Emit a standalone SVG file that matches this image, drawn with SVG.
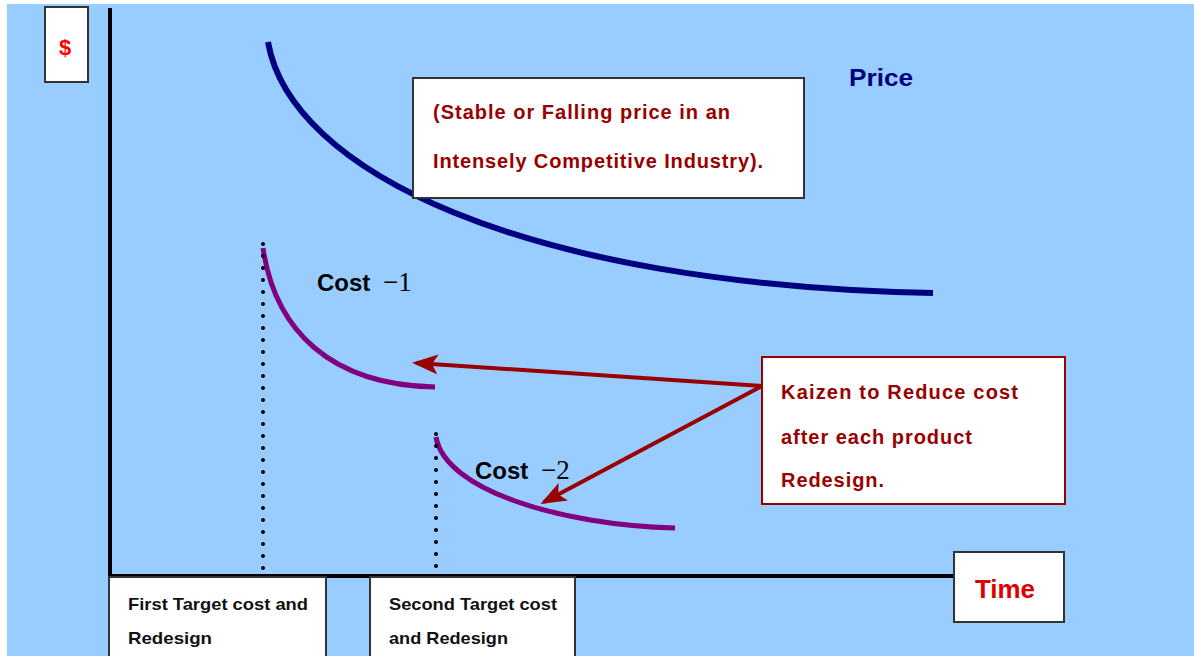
<svg xmlns="http://www.w3.org/2000/svg" width="1194" height="656" viewBox="0 0 1194 656">
<defs>
<marker id="ah" markerUnits="userSpaceOnUse" markerWidth="28" markerHeight="20" refX="22" refY="10" orient="auto">
<path d="M0,0 L26,10 L0,20 L6,10 Z" fill="#990000"/>
</marker>
</defs>
<style>
.box{fill:#fff;stroke:#333;stroke-width:2}
.rbox{fill:#fff;stroke:#990000;stroke-width:2}
.t{font-family:"Liberation Sans",Arial,sans-serif;font-weight:bold}
.red{fill:#990000;font-size:20px}
.lbl{fill:#111;font-size:17px}
.dot{stroke:#000;stroke-width:4;stroke-linecap:round;stroke-dasharray:0 12;fill:none}
.arr{stroke:#990000;stroke-width:4;fill:none}
</style>
<rect x="0" y="0" width="1194" height="656" fill="#fff"/>
<rect x="7" y="4" width="1187" height="652" fill="#99CCFF"/>
<g id="axes">
<line x1="110" y1="8" x2="110" y2="577" stroke="#000" stroke-width="4"/>
<line x1="108" y1="576" x2="955" y2="576" stroke="#000" stroke-width="4"/>
</g>
<g id="dollar-box">
<rect class="box" x="45" y="7" width="43" height="75"/>
<text class="t" x="65" y="55" font-size="22" fill="#ff0000" text-anchor="middle">$</text>
</g>
<g id="price-curve">
<path d="M268,42 C290,170 520,285 933,293" stroke="#000080" stroke-width="6" fill="none"/>
<text class="t" x="849" y="86" font-size="24" fill="#000080" textLength="64" lengthAdjust="spacingAndGlyphs">Price</text>
</g>
<g id="price-note">
<rect class="box" x="413" y="78" width="391" height="120"/>
<text class="t red" x="433" y="119" textLength="297" lengthAdjust="spacing">(Stable or Falling price in an</text>
<text class="t red" x="433" y="168" textLength="330" lengthAdjust="spacing">Intensely Competitive Industry).</text>
</g>
<g id="cost1">
<path d="M263,248 C275,330 330,385 435,387" stroke="#800080" stroke-width="5" fill="none"/>
<text class="t" x="317" y="291" font-size="24" fill="#000">Cost <tspan dx="6" font-family="'Liberation Serif',serif" font-weight="normal" font-size="27">−1</tspan></text>
</g>
<g id="cost2">
<path d="M436,437 C445,490 560,525 675,528" stroke="#800080" stroke-width="5" fill="none"/>
<text class="t" x="475" y="479" font-size="24" fill="#000">Cost <tspan dx="6" font-family="'Liberation Serif',serif" font-weight="normal" font-size="27">−2</tspan></text>
</g>
<g id="dotted-lines">
<line class="dot" x1="263" y1="244" x2="263" y2="570"/>
<line class="dot" x1="436" y1="434" x2="436" y2="570"/>
</g>
<g id="connectors">
<line class="arr" x1="762" y1="386" x2="416" y2="363" marker-end="url(#ah)"/>
<line class="arr" x1="762" y1="386" x2="544" y2="502" marker-end="url(#ah)"/>
</g>
<g id="kaizen-box">
<rect class="rbox" x="762" y="357" width="303" height="147"/>
<text class="t red" x="781" y="399" textLength="237" lengthAdjust="spacing">Kaizen to Reduce cost</text>
<text class="t red" x="781" y="444" textLength="191" lengthAdjust="spacing">after each product</text>
<text class="t red" x="781" y="487" textLength="103" lengthAdjust="spacing">Redesign.</text>
</g>
<g id="time-box">
<rect class="box" x="954" y="552" width="110" height="70"/>
<text class="t" x="975" y="598" font-size="26" fill="#dd0000" textLength="60" lengthAdjust="spacingAndGlyphs">Time</text>
</g>
<g id="first-target">
<rect class="box" x="109" y="577" width="217" height="82"/>
<text class="t lbl" x="128" y="610" textLength="180" lengthAdjust="spacingAndGlyphs">First Target cost and</text>
<text class="t lbl" x="128" y="644" textLength="84" lengthAdjust="spacingAndGlyphs">Redesign</text>
</g>
<g id="second-target">
<rect class="box" x="370" y="577" width="205" height="82"/>
<text class="t lbl" x="389" y="610" textLength="168" lengthAdjust="spacingAndGlyphs">Second Target cost</text>
<text class="t lbl" x="389" y="644" textLength="119" lengthAdjust="spacingAndGlyphs">and Redesign</text>
</g>
</svg>
